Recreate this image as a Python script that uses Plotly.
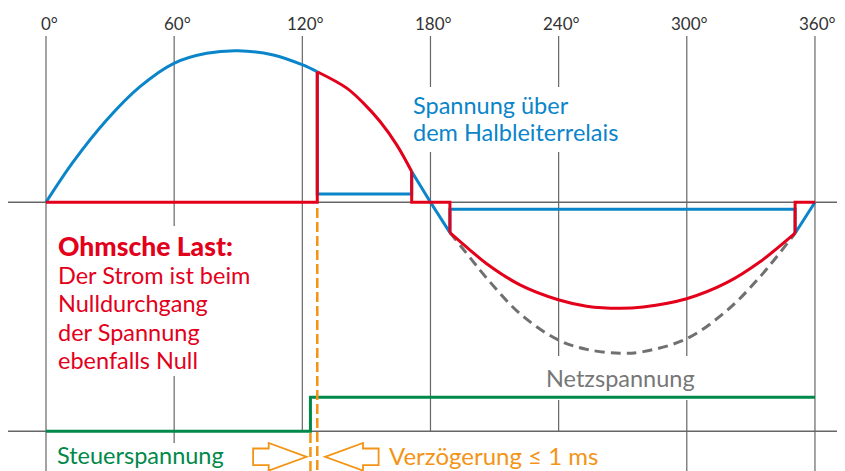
import plotly.graph_objects as go

# ---------------- data ----------------
tick_deg = [0, 60, 120, 180, 240, 300, 360]
tick_labels = ["0°", "60°", "120°", "180°", "240°", "300°", "360°"]

# blue: voltage across the solid-state relay, before switch-on
relais_arc_deg = [0, 12.8, 28.4, 44.0, 59.9, 75.2, 89.9, 106.4, 120.2, 127.0]
relais_arc_val = [0, 0.268, 0.543, 0.763, 0.917, 0.983, 1.0, 0.972, 0.906, 0.861]
# blue: remaining voltage while conducting / at zero crossing
relais_on_deg = [127.0, 127.0, 171.2, 171.2, 180.0, 189.1, 189.1, 350.7, 350.7, 360.0]
relais_on_val = [0.861, 0.055, 0.055, 0.203, 0.0, -0.200, -0.046, -0.046, -0.204, 0.0]

# red: load current (ohmic load)
strom_step1_deg = [0, 127.0, 127.0]
strom_step1_val = [0, 0, 0.861]
strom_arc1_deg = [127.0, 140.8, 148.6, 156.4, 164.2, 171.2]
strom_arc1_val = [0.861, 0.753, 0.654, 0.533, 0.379, 0.203]
strom_step2_deg = [171.2, 171.2, 189.1, 189.1]
strom_step2_val = [0.203, 0, 0, -0.200]
strom_arc2_deg = [189.1, 198.5, 206.3, 221.9, 239.8, 253.1, 268.7, 279.6, 299.9, 318.7, 334.3, 350.7]
strom_arc2_val = [-0.200, -0.315, -0.405, -0.545, -0.643, -0.685, -0.699, -0.690, -0.636, -0.530, -0.392, -0.204]
strom_step3_deg = [350.7, 350.7, 360.0]
strom_step3_val = [-0.204, 0, 0]

# grey dashed: mains voltage, negative half-wave
netz_deg = [189.1, 198.5, 206.3, 221.9, 239.8, 253.1, 268.7, 279.6, 299.9, 318.7, 334.3, 350.7]
netz_val = [-0.200, -0.365, -0.500, -0.735, -0.908, -0.970, -0.996, -0.985, -0.900, -0.715, -0.491, -0.204]

# green: control voltage (0 = off, 1 = on)
steuer_deg = [0, 123.8, 123.8, 360]
steuer_val = [0, 0, 1, 1]

einschalt_deg = 127.0   # switch-on of the relay
steuer_ein_deg = 123.8  # control voltage applied

ohm_lines = ["Ohmsche Last:", "Der Strom ist beim", "Nulldurchgang", "der Spannung", "ebenfalls Null"]
relais_lines = ["Spannung über", "dem Halbleiterrelais"]

# ---------------- layout helpers (pixel geometry of the 845x471 view) ----------------
VW, VH = 845, 471
OFF = 8                    # default page margin of the html body
W, H = VW - OFF, VH - OFF  # figure size so that it fills the view
X0, XS = 46.0, 2.136       # view px of 0°, px per degree
Y0, YS = 202.3, 151.6      # view px of zero line, px per unit
B0, BS = 431.3, 34.0       # view px of control baseline, px per control unit


def px2x(px):
    return (px - X0) / XS


def py2y(py):
    return (Y0 - py) / YS


def py2y2(py):
    return (B0 - py) / BS


BLUE = "#0a85c9"
RED = "#e3001b"
GREEN = "#00894a"
ORANGE = "#f39416"
GREY = "#707070"
GRID = "#666666"
FONT = "Lato"
TS = 23.5

fig = go.Figure()

fig.add_trace(go.Scatter(x=netz_deg, y=netz_val, mode="lines",
                         line=dict(color=GREY, width=3, dash="10px,6px", shape="spline")))
fig.add_trace(go.Scatter(x=relais_arc_deg, y=relais_arc_val, mode="lines",
                         line=dict(color=BLUE, width=3, shape="spline")))
fig.add_trace(go.Scatter(x=relais_on_deg, y=relais_on_val, mode="lines",
                         line=dict(color=BLUE, width=3)))
for xs, ys, shp in [(strom_step1_deg, strom_step1_val, "linear"),
                    (strom_arc1_deg, strom_arc1_val, "spline"),
                    (strom_step2_deg, strom_step2_val, "linear"),
                    (strom_arc2_deg, strom_arc2_val, "spline"),
                    (strom_step3_deg, strom_step3_val, "linear")]:
    fig.add_trace(go.Scatter(x=xs, y=ys, mode="lines",
                             line=dict(color=RED, width=3, shape=shp)))
fig.add_trace(go.Scatter(x=steuer_deg, y=steuer_val, yaxis="y2", mode="lines",
                         line=dict(color=GREEN, width=3)))

shapes = []
# vertical grid lines
for d in tick_deg:
    shapes.append(dict(type="line", layer="below", x0=d, x1=d, y0=py2y(36), y1=py2y(VH),
                       line=dict(color=GRID, width=1.2)))
# white areas behind texts (interrupt grid lines)
for (l, t, r, b) in [(50, 226, 256, 376), (408, 87, 630, 152), (540, 356, 708, 400),
                     (52, 443, 232, VH), (248, 432, 612, VH)]:
    shapes.append(dict(type="rect", layer="below", x0=px2x(l), x1=px2x(r),
                       y0=py2y(b), y1=py2y(t), fillcolor="white", line=dict(width=0)))
# zero line and control baseline
shapes.append(dict(type="line", layer="below", x0=px2x(8), x1=px2x(VW), y0=0, y1=0,
                   line=dict(color=GRID, width=1.5)))
shapes.append(dict(type="line", layer="below", xref="x", yref="y2", x0=px2x(8), x1=px2x(VW),
                   y0=0, y1=0, line=dict(color=GRID, width=1.5)))
# orange dashed markers
shapes.append(dict(type="line", layer="above", x0=einschalt_deg, x1=einschalt_deg,
                   y0=py2y(208), y1=py2y(VH), line=dict(color=ORANGE, width=2.5, dash="10px,4px")))
shapes.append(dict(type="line", layer="above", x0=steuer_ein_deg, x1=steuer_ein_deg,
                   y0=py2y(433), y1=py2y(VH), line=dict(color=ORANGE, width=2.5, dash="10px,4px")))


# outlined block arrows pointing at the delay
def arrow_path(tip_px, direction, cy=456.8, head_len=38, head_half=13.8, tail_len=15.6, tail_half=8.3):
    d = direction  # +1 pointing right, -1 pointing left
    pts = [(tip_px, cy),
           (tip_px - d * head_len, cy - head_half),
           (tip_px - d * head_len, cy - tail_half),
           (tip_px - d * (head_len + tail_len), cy - tail_half),
           (tip_px - d * (head_len + tail_len), cy + tail_half),
           (tip_px - d * head_len, cy + tail_half),
           (tip_px - d * head_len, cy + head_half)]
    return "M " + " L ".join(f"{px2x(a):.4f},{py2y(b):.4f}" for a, b in pts) + " Z"


shapes.append(dict(type="path", layer="above", path=arrow_path(306.7, +1),
                   line=dict(color=ORANGE, width=1.8), fillcolor="rgba(0,0,0,0)"))
shapes.append(dict(type="path", layer="above", path=arrow_path(325.0, -1),
                   line=dict(color=ORANGE, width=1.8), fillcolor="rgba(0,0,0,0)"))

annotations = []
for d, lab in zip(tick_deg, tick_labels):
    annotations.append(dict(x=d, y=py2y(23), text=lab, showarrow=False, xanchor="center",
                            yanchor="middle", xshift=3,
                            font=dict(family=FONT, size=17, color="#333333")))
for i, line in enumerate(ohm_lines):
    if i == 0:
        fnt = dict(family=FONT, size=26.5, color=RED, weight=900)
    else:
        fnt = dict(family=FONT, size=TS, color=RED)
    annotations.append(dict(x=px2x(56), y=py2y(246 + 28.5 * i), text=line, showarrow=False,
                            xanchor="left", yanchor="middle", font=fnt))
for i, line in enumerate(relais_lines):
    annotations.append(dict(x=px2x(411), y=py2y(105 + 26.5 * i), text=line, showarrow=False,
                            xanchor="left", yanchor="middle",
                            font=dict(family=FONT, size=TS, color=BLUE)))
annotations.append(dict(x=px2x(544), y=py2y(378), text="Netzspannung", showarrow=False,
                        xanchor="left", yanchor="middle",
                        font=dict(family=FONT, size=TS, color="#777777")))
annotations.append(dict(x=px2x(55), y=py2y(455), text="Steuerspannung", showarrow=False,
                        xanchor="left", yanchor="middle",
                        font=dict(family=FONT, size=TS, color=GREEN)))
annotations.append(dict(x=px2x(387), y=py2y(455), text="Verzögerung ≤ 1 ms", showarrow=False,
                        xanchor="left", yanchor="middle",
                        font=dict(family=FONT, size=24, color=ORANGE)))

fig.update_layout(
    width=W, height=H, margin=dict(l=0, r=0, t=0, b=0),
    paper_bgcolor="white", plot_bgcolor="white", showlegend=False,
    xaxis=dict(range=[px2x(OFF), px2x(VW)], visible=False, fixedrange=True),
    yaxis=dict(range=[py2y(VH), py2y(OFF)], visible=False, fixedrange=True),
    yaxis2=dict(range=[py2y2(VH), py2y2(OFF)], overlaying="y", visible=False, fixedrange=True),
    shapes=shapes, annotations=annotations,
)

fig.write_html("out.html")
